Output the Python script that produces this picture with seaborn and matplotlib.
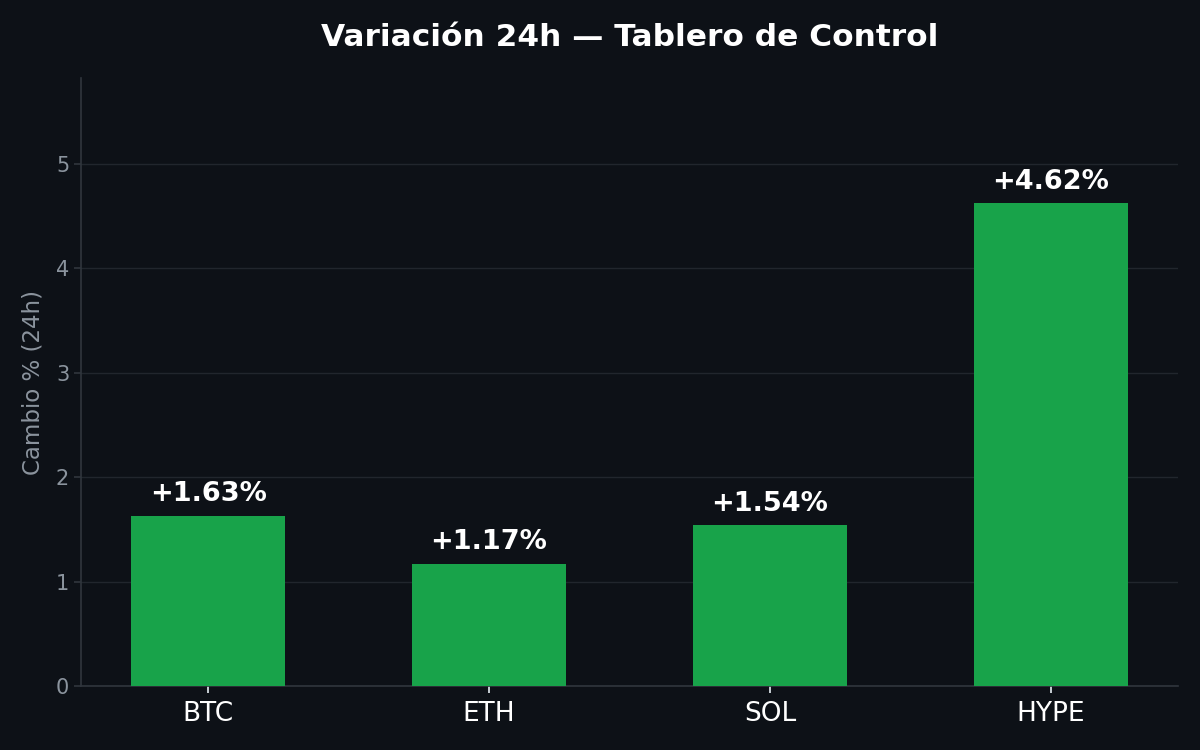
import matplotlib
matplotlib.use("Agg")
import matplotlib.pyplot as plt
import seaborn as sns
import pandas as pd

categories = ["BTC", "ETH", "SOL", "HYPE"]
changes = [1.63, 1.17, 1.54, 4.62]
labels = ["+1.63%", "+1.17%", "+1.54%", "+4.62%"]

BG = "#0d1117"
GREEN = "#18a34a"
GRID = "#21262d"
SPINE = "#30363d"
MUTED = "#8b949e"

sns.set_theme(style="dark")
plt.rcParams["font.family"] = ["DejaVu Sans"]

fig = plt.figure(figsize=(12, 7.5), dpi=100, facecolor=BG)
ax = fig.add_axes([0.0675, 0.0853, 0.9142, 0.8107])
ax.set_facecolor(BG)

df = pd.DataFrame({"asset": categories, "change": changes})
sns.barplot(data=df, x="asset", y="change", color=GREEN, saturation=1,
            width=0.55, ax=ax, zorder=3, edgecolor="none", linewidth=0)

for i, (v, t) in enumerate(zip(changes, labels)):
    ax.text(i, v + 0.08, t, ha="center", va="bottom", color="white",
            fontsize=19.5, fontweight="bold", zorder=4)

ax.set_xlim(-0.4525, 3.4525)
ax.set_ylim(0, 5.82)
ax.set_yticks([0, 1, 2, 3, 4, 5])
ax.grid(axis="y", color=GRID, linewidth=1, zorder=0)
ax.grid(axis="x", visible=False)

for s in ["top", "right"]:
    ax.spines[s].set_visible(False)
for s in ["left", "bottom"]:
    ax.spines[s].set_visible(True)
    ax.spines[s].set_color(SPINE)
    ax.spines[s].set_linewidth(1.2)

ax.tick_params(axis="y", colors=MUTED, labelsize=15, length=5, width=1.2, left=True)
ax.tick_params(axis="x", colors="#e6edf3", labelsize=19, length=5, width=1.2,
               bottom=True, pad=6)
ax.tick_params(axis="y", color=SPINE)
for lbl in ax.get_xticklabels():
    lbl.set_color("white")

ax.set_xlabel("")
ax.set_ylabel("Cambio % (24h)", color=MUTED, fontsize=16.5, labelpad=8)

ax.set_title("Variación 24h — Tablero de Control", color="white",
             fontsize=22.5, fontweight="bold", pad=23)

fig.savefig("out.png", dpi=100, facecolor=BG)
